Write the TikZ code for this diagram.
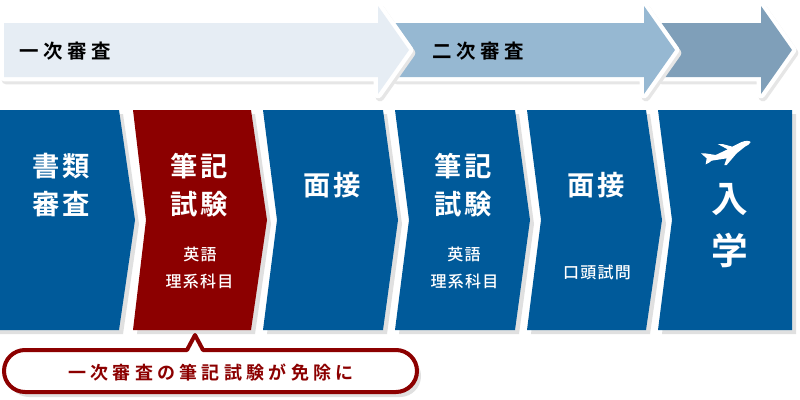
\documentclass[tikz,border=0pt]{standalone}
\usepackage{fontspec}
\newfontfamily\jpbig[LetterSpace=12]{Noto Sans CJK JP Bold}
\newfontfamily\jphead[LetterSpace=24]{Noto Sans CJK JP Bold}
\newfontfamily\jpsmall[LetterSpace=8]{Noto Sans CJK JP Medium}
\definecolor{stepblue}{HTML}{005A9A}
\definecolor{stepred}{HTML}{8C0000}
\definecolor{shadowgrey}{HTML}{E0E0E0}
\definecolor{barshade}{HTML}{E6E6E6}
\definecolor{barone}{HTML}{E6EDF4}
\definecolor{bartwo}{HTML}{96B8D2}
\definecolor{barthree}{HTML}{7F9FB9}
\tikzset{
  big/.style={text=white,inner sep=0pt,font=\jpbig\fontsize{20.5}{20}\selectfont},
  bigger/.style={text=white,inner sep=0pt,font=\jpbig\fontsize{27.5}{25}\selectfont},
  small/.style={text=white,inner sep=0pt,font=\jpsmall\fontsize{12}{12}\selectfont},
  head/.style={text=black,inner sep=0pt,font=\jphead\fontsize{14.6}{14}\selectfont},
  calltext/.style={text=stepred,inner sep=0pt,font=\jphead\fontsize{13.5}{14}\selectfont},
  barshadow/.style={draw=barshade,fill=barshade,line width=6.5pt,line join=round},
  barbody/.style={draw=white,line width=6.5pt,line join=round},
}
% left, notch, right, tip, colour
\newcommand{\chevron}[5]{%
  \fill[shadowgrey,shift={(4,4)}] (#1,110) -- (#3,110) -- (#4,220) -- (#3,330) -- (#1,330) -- (#2,220) -- cycle;
  \fill[#5] (#1,110) -- (#3,110) -- (#4,220) -- (#3,330) -- (#1,330) -- (#2,220) -- cycle;
}
% left, head base, tip, colour
\newcommand{\bararrow}[4]{%
  \path[barshadow,shift={(2,3)}] (#1,23) -- (#2,23) -- (#2,6) -- (#3,50) -- (#2,94) -- (#2,77) -- (#1,77) -- cycle;
  \path[barbody] (#1,23) -- (#2,23) -- (#2,6) -- (#3,50) -- (#2,94) -- (#2,77) -- (#1,77) -- cycle;
  \fill[#4] (#1,23) -- (#2,23) -- (#2,6) -- (#3,50) -- (#2,94) -- (#2,77) -- (#1,77) -- cycle;
}
\begin{document}
\begin{tikzpicture}[x=0.75pt,y=-0.75pt]
\useasboundingbox (0,0) rectangle (800,400);
\fill[white] (0,0) rectangle (800,400);
% top arrows
\bararrow{660}{761}{792}{barthree}
\bararrow{395}{644}{675}{bartwo}
\bararrow{4}{378}{409}{barone}
\node[head] (one) at (65.5,51) {一次審査};
\node[head] (two) at (478,51) {二次審査};
% chevrons
\chevron{-8}{-8}{119}{135}{stepblue}
\fill[white] (-20,100) rectangle (0,340);
\chevron{133}{146}{251}{267}{stepred}
\chevron{263}{277}{383}{398}{stepblue}
\chevron{395}{409}{515}{530}{stepblue}
\chevron{527}{541}{646}{662}{stepblue}
\fill[shadowgrey,shift={(4,4)}] (658,110) -- (792,110) -- (792,330) -- (658,330) -- (672,220) -- cycle;
\fill[stepblue] (658,110) -- (792,110) -- (792,330) -- (658,330) -- (672,220) -- cycle;
% labels
\node[big] (a1) at (61,166) {書類};
\node[big] (a2) at (61,204) {審査};
\node[big] (b1) at (199,166) {筆記};
\node[big] (b2) at (199,204) {試験};
\node[small] (b3) at (200,254) {英語};
\node[small] (b4) at (199.5,281) {理系科目};
\node[big] (c1) at (332,185) {面接};
\node[big] (d1) at (463,166) {筆記};
\node[big] (d2) at (463,204) {試験};
\node[small] (d3) at (464,254) {英語};
\node[small] (d4) at (464.5,281) {理系科目};
\node[big] (e1) at (596,185) {面接};
\node[small] (e2) at (597,272) {口頭試問};
\node[bigger] (f1) at (730,200) {入};
\node[bigger] (f2) at (730,250) {学};
% plane
\begin{scope}[shift={(695,130)},x=0.25pt,y=-0.25pt]
\fill[white] (167,36) .. controls (163,31) and (150,32) .. (140,36) -- (112,50) -- (82,42) -- (68,42) -- (98,58) -- (62,75) -- (30,70) -- (18,70) -- (35,85) -- (32,103) -- (42,98) -- (50,92) -- (95,85) -- (88,105) -- (95,105) -- (125,70) -- (150,50) .. controls (158,46) and (165,42) .. (167,36) -- cycle;
\end{scope}
% callout
\fill[shadowgrey,shift={(4,5)}]
  (25,350) -- (396,350) arc[start angle=-90,end angle=90,radius=21] -- (25,392) arc[start angle=90,end angle=270,radius=21] -- cycle;
\path[draw=stepred,fill=white,line width=3pt,line join=round]
  (25,350) -- (187,350) -- (195,335) -- (203,350) -- (396,350) arc[start angle=-90,end angle=90,radius=21] -- (25,392) arc[start angle=90,end angle=270,radius=21] -- cycle;
\node[calltext] (note) at (211,373) {一次審査の筆記試験が免除に};
\end{tikzpicture}
\end{document}
